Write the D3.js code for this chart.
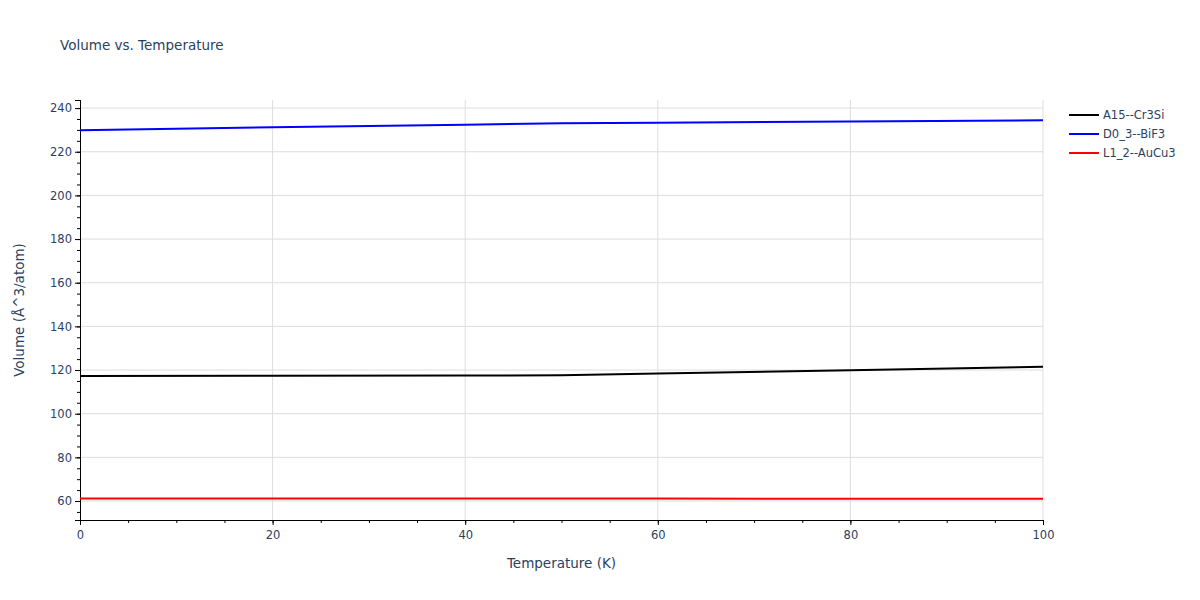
<!DOCTYPE html>
<html><head><meta charset="utf-8">
<script src="https://cdn.jsdelivr.net/npm/d3@7"></script>
<style>body{margin:0;background:#fff;font-family:"DejaVu Sans",sans-serif;}</style>
</head><body><div id="chart"></div>
<script>
var temps = [0, 20, 40, 50, 60, 80, 100]
var names = ["A15--Cr3Si", "D0_3--BiF3", "L1_2--AuCu3"]
var colors = ["#000000", "#0000ff", "#ff0000"]
var a15 = [117.3, 117.4, 117.5, 117.6, 118.4, 119.9, 121.5]
var d03 = [229.8, 231.2, 232.4, 233.1, 233.3, 233.8, 234.4]
var l12 = [61.2, 61.2, 61.1, 61.1, 61.1, 61.0, 61.0]
var series = [a15, d03, l12]

var margin = {top: 100, right: 157, bottom: 80, left: 80},
    width = 1200 - margin.left - margin.right,
    height = 600 - margin.top - margin.bottom;

var root = d3.select("#chart").append("svg")
    .attr("width", 1200).attr("height", 600)
var svg = root.append("g")
    .attr("transform", "translate(" + margin.left + "," + margin.top + ")");

var x = d3.scaleLinear().domain([0, 100]).range([0, width]);
var y = d3.scaleLinear().domain([51.3, 243.7]).range([height, 0]);

// grid
svg.append("g").selectAll("line").data(x.ticks(5).filter(function(d){return d>0;}))
    .enter().append("line")
    .attr("x1", x).attr("x2", x).attr("y1", 0).attr("y2", height)
    .attr("stroke", "#dddddd");
svg.append("g").selectAll("line").data(d3.range(60, 241, 20))
    .enter().append("line")
    .attr("y1", y).attr("y2", y).attr("x1", 0).attr("x2", width)
    .attr("stroke", "#dddddd");

// axes
svg.append("g").attr("transform", "translate(0," + height + ")")
    .call(d3.axisBottom(x).ticks(5).tickSize(5).tickPadding(6));
svg.append("g").attr("transform", "translate(0," + height + ")")
    .call(d3.axisBottom(x).tickValues(d3.range(0, 101, 5)).tickSize(3).tickFormat(""));
svg.append("g")
    .call(d3.axisLeft(y).tickValues(d3.range(60, 241, 20)).tickSize(5).tickPadding(3));
svg.append("g")
    .call(d3.axisLeft(y).tickValues(d3.range(55, 241, 5)).tickSize(3).tickFormat(""));
svg.selectAll(".domain").attr("stroke", "#000");
svg.selectAll(".tick line").attr("stroke", "#000");
svg.selectAll(".tick text").attr("fill", "#2a3f5f").style("font-size", "11.5px")
    .style("font-family", "DejaVu Sans, sans-serif");

// lines
var line = d3.line().x(function(d, i){ return x(temps[i]); }).y(function(d){ return y(d); });
series.forEach(function(s, i) {
    svg.append("path").datum(s)
        .attr("d", line).attr("fill", "none")
        .attr("stroke", colors[i]).attr("stroke-width", 2);
});

// titles
root.append("text").attr("x", 60).attr("y", 50).text("Volume vs. Temperature")
    .attr("fill", "#2a3f5f").style("font-size", "13.5px");
root.append("text").attr("x", margin.left + width / 2).attr("y", 568)
    .attr("text-anchor", "middle").text("Temperature (K)")
    .attr("fill", "#2a3f5f").style("font-size", "13.5px");
root.append("text").attr("transform", "translate(24," + (margin.top + height / 2) + ")rotate(-90)")
    .attr("text-anchor", "middle").text("Volume (Å^3/atom)")
    .attr("fill", "#2a3f5f").style("font-size", "13.5px");

// legend
var leg = root.append("g").attr("transform", "translate(1069,115)");
names.forEach(function(n, i) {
    var g = leg.append("g").attr("transform", "translate(0," + (i * 19) + ")");
    g.append("line").attr("x1", 0).attr("x2", 30).attr("stroke", colors[i]).attr("stroke-width", 2);
    g.append("text").attr("x", 34).attr("y", 4).text(n)
        .attr("fill", "#2a3f5f").style("font-size", "11.5px");
});
</script></body></html>
